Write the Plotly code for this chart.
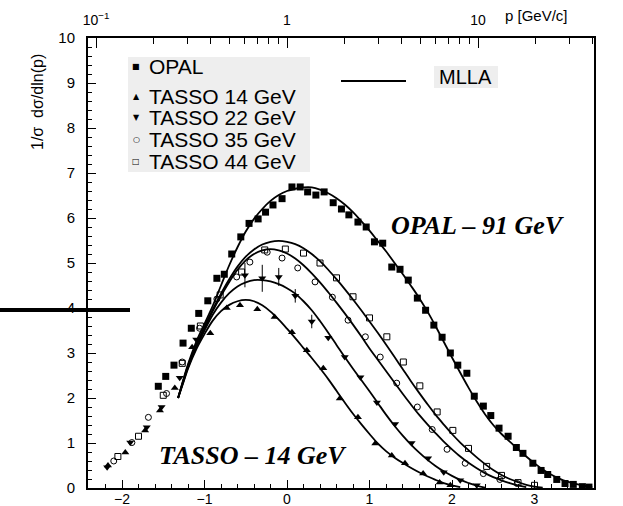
import plotly.graph_objects as go

# ---------------- data ----------------
# xi = ln(1/x_p) bottom axis ; y = 1/sigma dsigma/dln(p)
opal_xi = [-1.56, -1.47, -1.37, -1.26, -1.16, -1.07, -0.96, -0.85, -0.76, -0.67, -0.56, -0.46,
           -0.35, -0.26, -0.17, -0.06, 0.06, 0.16, 0.25, 0.35, 0.45, 0.56, 0.66, 0.75, 0.86,
           0.96, 1.06, 1.16, 1.27, 1.37, 1.47, 1.58, 1.68, 1.78, 1.88, 1.98, 2.07, 2.18, 2.27,
           2.38, 2.47, 2.57, 2.68, 2.78, 2.86, 2.98, 3.08, 3.16, 3.27, 3.37, 3.47, 3.58, 3.66]
opal_y = [2.26, 2.48, 2.73, 3.22, 3.55, 3.88, 4.16, 4.66, 4.75, 5.20, 5.58, 5.88,
          5.98, 6.13, 6.29, 6.43, 6.69, 6.69, 6.58, 6.51, 6.58, 6.34, 6.20, 6.07, 5.91,
          5.80, 5.47, 5.44, 4.91, 4.86, 4.62, 4.22, 3.95, 3.62, 3.35, 3.00, 2.73, 2.55, 2.04,
          1.82, 1.61, 1.33, 1.15, 0.90, 0.77, 0.55, 0.39, 0.30, 0.19, 0.10, 0.08, 0.03, 0.02]

t14_xi = [-2.17, -1.96, -1.72, -1.54, -1.36, -1.15, -0.93, -0.73, -0.57, -0.36, -0.15, 0.06,
          0.24, 0.44, 0.64, 0.86, 1.07, 1.27, 1.43, 1.65, 1.85, 1.98]
t14_y = [0.50, 0.79, 1.28, 1.72, 2.22, 3.13, 3.44, 4.00, 4.06, 3.97, 3.80, 3.46,
         3.06, 2.66, 1.99, 1.57, 0.99, 0.72, 0.55, 0.32, 0.12, 0.06]

t22_xi = [-2.18, -1.90, -1.70, -1.52, -1.30, -1.10, -0.51, -0.30, -0.10, 0.10, 0.30, 0.50,
          0.70, 0.89, 1.09, 1.31, 1.51, 1.71, 1.90, 2.10, 2.30]
t22_y = [0.46, 1.01, 1.35, 1.80, 2.45, 3.30, 4.73, 4.66, 4.69, 4.27, 3.70, 3.34,
         2.91, 2.46, 1.90, 1.42, 1.00, 0.66, 0.35, 0.17, 0.06]
t22_err = [0, 0, 0, 0, 0, 0, 0.27, 0.30, 0.20, 0.15, 0.15, 0,
           0, 0, 0, 0, 0, 0, 0, 0, 0]

t35_xi = [-2.10, -1.88, -1.68, -1.46, -1.27, -1.06, -0.85, -0.61, -0.45, -0.24, -0.06, 0.13,
          0.34, 0.55, 0.74, 0.95, 1.13, 1.33, 1.58, 1.76, 1.94, 2.16, 2.38, 2.58, 2.79]
t35_y = [0.60, 1.01, 1.57, 2.10, 2.80, 3.55, 4.20, 4.69, 5.02, 5.24, 5.11, 4.89,
         4.58, 4.24, 3.73, 3.36, 2.91, 2.33, 1.80, 1.30, 0.86, 0.55, 0.32, 0.19, 0.10]

t44_xi = [-2.05, -1.80, -1.50, -1.27, -1.05, -0.81, -0.55, -0.27, -0.02, 0.20, 0.40, 0.60,
          0.80, 1.00, 1.21, 1.41, 1.61, 1.82, 2.01, 2.20, 2.42, 2.60, 2.80, 3.00]
t44_y = [0.70, 1.15, 2.06, 2.77, 3.60, 4.29, 4.80, 5.29, 5.31, 5.22, 5.00, 4.67,
         4.25, 3.78, 3.36, 2.80, 2.27, 1.69, 1.28, 0.88, 0.48, 0.28, 0.12, 0.06]

# MLLA curves, sampled on a common xi grid (each curve ends where it reaches zero)
mlla_xi = [-1.32, -1.25, -1.2, -1.1, -1.0, -0.9, -0.8, -0.7, -0.6, -0.5, -0.4, -0.3, -0.2, -0.1,
           0.0, 0.1, 0.2, 0.3, 0.4, 0.5, 0.6, 0.7, 0.8, 0.9, 1.0, 1.1, 1.2, 1.3, 1.4, 1.5,
           1.6, 1.7, 1.8, 1.9, 2.0, 2.1, 2.2, 2.3, 2.4, 2.5, 2.6, 2.7, 2.8, 2.9, 3.0, 3.1,
           3.2, 3.3, 3.4, 3.5, 3.6, 3.7]
mlla_opal = [2.0, 2.45, 2.75, 3.25, 3.65, 4.05, 4.5, 4.95, 5.35, 5.7, 5.98, 6.2, 6.38, 6.51,
             6.6, 6.65, 6.68, 6.68, 6.63, 6.55, 6.44, 6.3, 6.13, 5.93, 5.72, 5.49, 5.26, 5.01,
             4.76, 4.5, 4.23, 3.93, 3.6, 3.25, 2.9, 2.56, 2.23, 1.92, 1.64, 1.4, 1.2, 1.03,
             0.86, 0.7, 0.55, 0.41, 0.3, 0.21, 0.14, 0.09, 0.05, 0.02]
mlla_14 = [2.0, 2.38, 2.65, 3.08, 3.42, 3.72, 3.93, 4.07, 4.15, 4.18, 4.15, 4.06, 3.92, 3.74,
           3.54, 3.33, 3.11, 2.89, 2.66, 2.42, 2.16, 1.9, 1.65, 1.42, 1.2, 0.99, 0.82, 0.68,
           0.56, 0.45, 0.35, 0.26, 0.18, 0.11, 0.06, 0.02]
mlla_22 = [2.0, 2.4, 2.68, 3.12, 3.5, 3.85, 4.12, 4.33, 4.48, 4.57, 4.62, 4.62, 4.59, 4.53,
           4.44, 4.32, 4.15, 3.95, 3.71, 3.45, 3.18, 2.91, 2.65, 2.4, 2.15, 1.89, 1.63, 1.39,
           1.17, 0.97, 0.79, 0.63, 0.49, 0.37, 0.27, 0.18, 0.11, 0.05, 0.01]
mlla_35 = [2.0, 2.42, 2.7, 3.15, 3.55, 3.93, 4.27, 4.58, 4.85, 5.06, 5.2, 5.28, 5.31, 5.28,
           5.21, 5.1, 4.95, 4.77, 4.57, 4.35, 4.12, 3.88, 3.63, 3.37, 3.1, 2.85, 2.6, 2.35,
           2.1, 1.86, 1.63, 1.42, 1.22, 1.03, 0.86, 0.7, 0.56, 0.44, 0.33, 0.24, 0.17, 0.11,
           0.06, 0.02]
mlla_44 = [2.0, 2.43, 2.72, 3.18, 3.58, 3.97, 4.32, 4.64, 4.92, 5.14, 5.3, 5.41, 5.47, 5.49,
           5.47, 5.42, 5.33, 5.2, 5.04, 4.85, 4.64, 4.42, 4.19, 3.95, 3.7, 3.45, 3.19, 2.92,
           2.65, 2.38, 2.12, 1.87, 1.63, 1.41, 1.2, 1.01, 0.84, 0.68, 0.53, 0.4, 0.29, 0.2,
           0.13, 0.07, 0.03, 0.01]

x_ticks = [-2, -1, 0, 1, 2, 3]
y_ticks = [0, 1, 2, 3, 4, 5, 6, 7, 8, 9, 10]
p_ticks = [0.1, 1, 10]
p_ticktext = ["10<sup>−1</sup>", "1", "10"]
p_minor = [0.2, 0.3, 0.4, 0.5, 0.6, 0.7, 0.8, 0.9, 2, 3, 4, 5, 6, 7, 8, 9, 20, 30, 40]

legend_entries = [("■", "OPAL"), ("▲", "TASSO 14 GeV"), ("▼", "TASSO 22 GeV"),
                  ("○", "TASSO 35 GeV"), ("□", "TASSO 44 GeV")]

# ---------------- figure ----------------
W, H = 623, 506
ML, MR, MT, MB = 88, 29, 38, 18
PW, PH = W - ML - MR, H - MT - MB


def px(x):
    return (x - ML) / PW


def py(y):
    return (H - MB - y) / PH


fig = go.Figure()

for yy in [mlla_opal, mlla_14, mlla_22, mlla_35, mlla_44]:
    fig.add_trace(go.Scatter(x=mlla_xi[:len(yy)], y=yy, mode="lines",
                             line=dict(color="black", width=1.8, shape="spline"),
                             hoverinfo="skip"))

fig.add_trace(go.Scatter(x=opal_xi, y=opal_y, mode="markers",
                         marker=dict(symbol="square", size=7, color="black")))
fig.add_trace(go.Scatter(x=t14_xi, y=t14_y, mode="markers",
                         marker=dict(symbol="triangle-up", size=7, color="black")))
fig.add_trace(go.Scatter(x=t22_xi, y=t22_y, mode="markers",
                         error_y=dict(type="data", array=t22_err, color="black",
                                      thickness=1, width=0),
                         marker=dict(symbol="triangle-down", size=7, color="black")))
fig.add_trace(go.Scatter(x=t35_xi, y=t35_y, mode="markers",
                         marker=dict(symbol="circle-open", size=6, color="black",
                                     line=dict(width=1))))
fig.add_trace(go.Scatter(x=t44_xi, y=t44_y, mode="markers",
                         marker=dict(symbol="square-open", size=6, color="black",
                                     line=dict(width=1))))
# invisible trace to activate the top log axis
fig.add_trace(go.Scatter(x=[1], y=[0], xaxis="x2", mode="markers",
                         marker=dict(opacity=0), hoverinfo="skip"))

shapes = [
    # grey scan shading behind legend and MLLA label
    dict(type="rect", xref="paper", yref="paper", x0=px(128), x1=px(310), y0=py(172), y1=py(57),
         fillcolor="#eeeeee", line=dict(width=0), layer="below"),
    dict(type="rect", xref="paper", yref="paper", x0=px(434), x1=px(498), y0=py(88), y1=py(66),
         fillcolor="#eeeeee", line=dict(width=0), layer="below"),
    # MLLA legend line
    dict(type="line", xref="paper", yref="paper", x0=px(341), x1=px(406), y0=py(81), y1=py(81),
         line=dict(color="black", width=2)),
    # black bar across the left edge (scan artefact)
    dict(type="line", xref="paper", yref="paper", x0=px(0), x1=px(130), y0=py(310), y1=py(310),
         line=dict(color="black", width=4)),
]

ann = []
rows = [67, 96, 117, 139, 161]
for (sym, txt), r in zip(legend_entries, rows):
    ann.append(dict(xref="paper", yref="paper", x=px(136), y=py(r), text=sym, showarrow=False,
                    xanchor="center", yanchor="middle",
                    font=dict(family="DejaVu Sans", size=8, color="black")))
    ann.append(dict(xref="paper", yref="paper", x=px(147), y=py(r), text=txt, showarrow=False,
                    xanchor="left", yanchor="middle",
                    font=dict(family="Liberation Sans", size=21, color="black")))
ann += [
    dict(xref="paper", yref="paper", x=px(437), y=py(77), text="MLLA", showarrow=False,
         xanchor="left", yanchor="middle",
         font=dict(family="Liberation Sans", size=20, color="black")),
    dict(xref="paper", yref="paper", x=px(478), y=py(225), text="<b><i>OPAL – 91 GeV</i></b>",
         showarrow=False, xanchor="center", yanchor="middle",
         font=dict(family="Liberation Serif", size=26, color="black")),
    dict(xref="paper", yref="paper", x=px(253), y=py(455), text="<b><i>TASSO – 14 GeV</i></b>",
         showarrow=False, xanchor="center", yanchor="middle",
         font=dict(family="Liberation Serif", size=26, color="black")),
    dict(xref="paper", yref="paper", x=px(37), y=py(102), text="1/σ  dσ/dln(p)", textangle=-90,
         showarrow=False, xanchor="center", yanchor="middle",
         font=dict(family="Liberation Sans", size=16, color="black")),
    dict(xref="paper", yref="paper", x=px(536), y=py(15), text="p [GeV/c]", showarrow=False,
         xanchor="center", yanchor="middle",
         font=dict(family="Liberation Sans", size=15, color="black")),
]

fig.update_layout(
    width=W, height=H,
    margin=dict(l=ML, r=MR, t=MT, b=MB, autoexpand=False),
    paper_bgcolor="white", plot_bgcolor="white",
    showlegend=False,
    shapes=shapes, annotations=ann,
    xaxis=dict(range=[(ML - 287) / 82.5, (W - MR - 287) / 82.5], tickvals=x_ticks,
               ticks="inside", ticklen=8, tickwidth=1.2, tickcolor="black",
               minor=dict(dtick=0.2, ticks="inside", ticklen=4, tickcolor="black"),
               showline=True, linecolor="black", linewidth=2, mirror=True,
               showgrid=False, zeroline=False, ticklabelstandoff=-3,
               tickfont=dict(family="Liberation Sans", size=14, color="black")),
    xaxis2=dict(type="log", overlaying="x", side="top", anchor="y",
                range=[(ML - 287) / 191, (W - MR - 287) / 191],
                tickvals=p_ticks, ticktext=p_ticktext, ticks="inside", ticklen=10,
                tickcolor="black", tickwidth=1.2,
                minor=dict(tickvals=p_minor, ticks="inside", ticklen=6, tickcolor="black"),
                showgrid=False, zeroline=False, showline=False, ticklabelstandoff=9,
                tickfont=dict(family="Liberation Sans", size=14, color="black")),
    yaxis=dict(range=[0, 10], tickvals=y_ticks, ticks="inside", ticklen=8, tickwidth=1.2,
               tickcolor="black",
               minor=dict(dtick=0.2, ticks="inside", ticklen=4, tickcolor="black"),
               showline=True, linecolor="black", linewidth=2, mirror=True,
               showgrid=False, zeroline=False, ticklabelstandoff=8,
               tickfont=dict(family="Liberation Sans", size=15, color="black")),
)

fig.write_html("out.html")
